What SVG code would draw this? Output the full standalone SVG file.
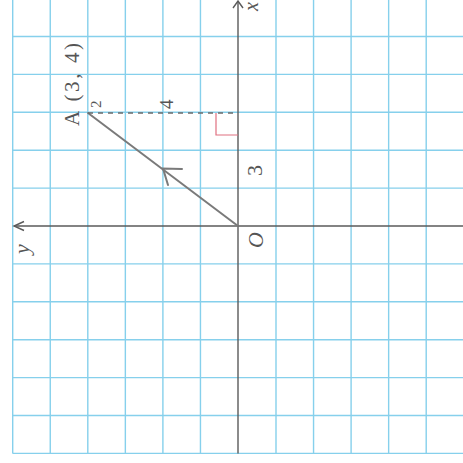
<svg xmlns="http://www.w3.org/2000/svg" width="463" height="463" viewBox="0 0 463 463">
  <style>
    .grid { stroke: #86d0ec; stroke-width: 1.4; fill: none; }
    .axis { stroke: #5a5a5a; stroke-width: 1.4; fill: none; }
    .vec { stroke: #7a7a7a; stroke-width: 2; fill: none; stroke-linecap: round; }
    .dash { stroke: #6a6a6a; stroke-width: 1.6; fill: none; stroke-dasharray: 5 5; }
    .red { stroke: #e07080; stroke-width: 1.2; fill: none; }
    .lbl { font-family: "Liberation Serif", "DejaVu Serif", serif; fill: #555; }
    .it { font-style: italic; }
  </style>
  <rect x="0" y="0" width="463" height="463" fill="#ffffff"/>
  <g id="grid" class="grid">
    <path d="M12.7 0V453.4M50.25 0V453.4M87.8 0V453.4M125.35 0V453.4M162.9 0V453.4M200.45 0V453.4M276 0V453.4M313.55 0V453.4M351.1 0V453.4M388.65 0V453.4M426.2 0V453.4"/>
    <path d="M12.7 36.5H463M12.7 74.4H463M12.7 112.3H463M12.7 150.2H463M12.7 188.1H463M12.7 263.9H463M12.7 301.8H463M12.7 339.7H463M12.7 377.6H463M12.7 415.5H463M12.7 453.4H463"/>
  </g>
  <g id="axes" class="axis">
    <path d="M238 1V453.4"/>
    <path d="M233 8L238 1L243 8"/>
    <path d="M14 226H463"/>
    <path d="M24 221.5L14 226L24 230.5"/>
  </g>
  <g id="connectors">
    <path class="vec" d="M238 226L88 113"/>
    <path class="vec" d="M182 169L163 168.5L168 185"/>
    <path class="dash" d="M88 113H238"/>
    <path class="red" d="M238 135H216V113"/>
  </g>
  <g id="node-O">
    <text class="lbl it" x="263" y="248" font-size="22" transform="rotate(-90 263 248)">O</text>
  </g>
  <g id="node-A">
    <text class="lbl" x="79" y="126" font-size="21" textLength="83" lengthAdjust="spacing" transform="rotate(-90 79 126)">A (3, 4)</text>
    <text class="lbl" x="101" y="108" font-size="15" transform="rotate(-90 101 108)">2</text>
  </g>
  <g id="label-4">
    <text class="lbl" x="173" y="109" font-size="19" transform="rotate(-90 173 109)">4</text>
  </g>
  <g id="label-3">
    <text class="lbl" x="262" y="176" font-size="22" transform="rotate(-90 262 176)">3</text>
  </g>
  <g id="label-x">
    <text class="lbl it" x="258" y="11" font-size="20" transform="rotate(-90 258 11)">x</text>
  </g>
  <g id="label-y">
    <text class="lbl it" x="29" y="254" font-size="22" transform="rotate(-90 29 254)">y</text>
  </g>
</svg>
